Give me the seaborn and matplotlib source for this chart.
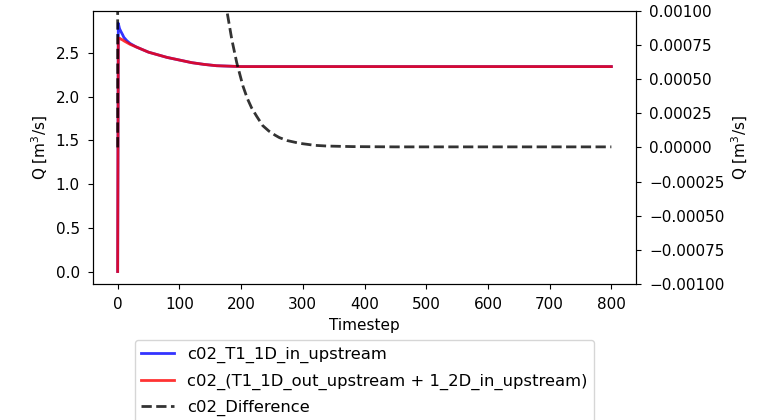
import matplotlib
matplotlib.use("Agg")
import seaborn as sns
from matplotlib import pyplot as plt

# timesteps and discharge
timestep = [0, 1, 2, 3, 5, 8, 10, 15, 20, 30, 40, 50, 60, 80, 100, 120, 140, 160,
            180, 200, 250, 300, 400, 500, 600, 700, 800]
q_in = [0.0, 2.84, 2.81, 2.78, 2.75, 2.71, 2.68, 2.64, 2.61, 2.57, 2.54, 2.51, 2.49,
        2.45, 2.42, 2.39, 2.37, 2.355, 2.35, 2.345, 2.345, 2.345, 2.345, 2.345,
        2.345, 2.345, 2.345]
q_out = [0.0, 2.67, 2.67, 2.67, 2.66, 2.65, 2.64, 2.62, 2.60, 2.57, 2.54, 2.51, 2.49,
         2.45, 2.42, 2.39, 2.37, 2.355, 2.35, 2.345, 2.345, 2.345, 2.345, 2.345,
         2.345, 2.345, 2.345]

diff_t = [0, 1, 2, 5, 10, 20, 50, 100, 130, 150, 160, 170, 177, 185, 193, 203, 210,
          217, 225, 235, 245, 255, 262, 275, 295, 320, 340, 380, 450, 500, 600, 700, 800]
diff_q = [0.0, 0.17, 0.14, 0.08, 0.03, 0.02, 0.01, 0.0045, 0.0033, 0.00225, 0.00166,
          0.00123, 0.001, 0.00079, 0.00062, 0.00045, 0.00036, 0.00029, 0.00023,
          0.00016, 0.00012, 0.00009, 0.000072, 0.00005, 0.00003, 0.000015, 0.00001,
          0.000006, 0.000004, 0.000004, 0.000004, 0.000004, 0.000004]

plt.rcParams['font.size'] = 11
plt.rcParams['xtick.major.pad'] = 6
plt.rcParams['ytick.major.pad'] = 6

fig, ax = plt.subplots(figsize=(7.59, 4.2), dpi=100)
fig.subplots_adjust(left=0.1225, right=0.838, top=0.974, bottom=0.324)

sns.lineplot(x=timestep, y=q_in, ax=ax, color='blue', alpha=0.8, linewidth=2,
             label='c02_T1_1D_in_upstream')
sns.lineplot(x=timestep, y=q_out, ax=ax, color='red', alpha=0.8, linewidth=2,
             label='c02_(T1_1D_out_upstream + 1_2D_in_upstream)')
ax.set_xlabel('Timestep')
ax.set_ylabel('Q [m$^3$/s]')
ax.set_xticks(range(0, 801, 100))

ax2 = ax.twinx()
sns.lineplot(x=diff_t, y=diff_q, ax=ax2, color='black', linestyle='--', alpha=0.8,
             linewidth=2, label='c02_Difference')
ax2.set_ylim(-0.001, 0.001)
ax2.set_ylabel('Q [m$^3$/s]')

h1, l1 = ax.get_legend_handles_labels()
h2, l2 = ax2.get_legend_handles_labels()
for a in (ax, ax2):
    if a.get_legend() is not None:
        a.get_legend().remove()
ax.legend(h1 + h2, l1 + l2, loc='upper center', bbox_to_anchor=(0.5, -0.175),
          fontsize=11.8, labelspacing=0.65)

plt.savefig('out.png')
